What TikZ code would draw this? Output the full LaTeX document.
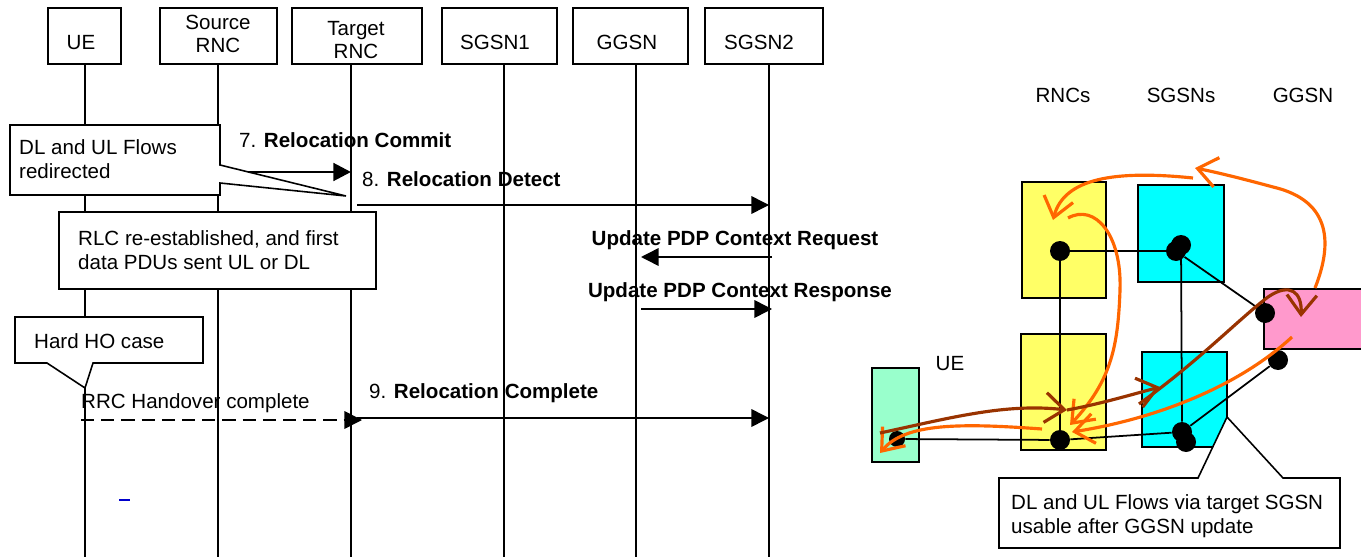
\documentclass[tikz,border=0pt]{standalone}
\usepackage{fontspec}
\setmainfont{Liberation Sans}
\usetikzlibrary{arrows.meta}
\definecolor{rncyellow}{HTML}{FFFF66}
\definecolor{sgsncyan}{HTML}{00FFFF}
\definecolor{ggsnpink}{HTML}{FF99CC}
\definecolor{uegreen}{HTML}{99FFCC}
\definecolor{floworange}{HTML}{FF6600}
\definecolor{flowbrown}{HTML}{993300}
\tikzset{
  hdr/.style={draw=black,line width=1.1pt,fill=white,minimum height=1.12cm,inner sep=0pt},
  life/.style={line width=1.4pt},
  msg/.style={line width=0.85pt,-{Triangle[length=10pt,width=10pt]}},
  note/.style={draw=black,line width=0.9pt,fill=white},
  blk/.style={draw=black,line width=1.1pt,inner sep=0pt},
  dot/.style={circle,fill=black,inner sep=0pt,minimum size=0.4cm},
  wire/.style={line width=1pt},
  flow/.style={line width=1.8pt,-{Straight Barb[length=11pt,width=17pt]}},
}
\begin{document}
\begin{tikzpicture}[x=0.02cm,y=-0.02cm,font=\fontsize{11.7}{14}\selectfont]
\useasboundingbox (0,0) rectangle (1361,557);
% lifeline heads
\node[hdr,minimum width=1.46cm] (ue) at (84.5,36) {};
\node[hdr,minimum width=2.34cm] (src) at (218.5,36) {};
\node[hdr,minimum width=2.6cm] (tgt) at (357,36) {};
\node[hdr,minimum width=2.3cm] (sg1) at (499.5,36) {};
\node[hdr,minimum width=2.3cm] (gg) at (630.5,36) {};
\node[hdr,minimum width=2.36cm] (sg2) at (764,36) {};
\node[anchor=base] at (81,50) {UE};
\node[align=center,font=\fontsize{11.7}{13}\selectfont] at (218,34) {Source\\RNC};
\node[align=center,font=\fontsize{11.7}{13}\selectfont] at (356,40) {Target\\RNC};
\node[anchor=base] at (495,50) {SGSN1};
\node[anchor=base] at (627,50) {GGSN};
\node[anchor=base] at (759,50) {SGSN2};
%
\coordinate (ueB) at (85,557);
\coordinate (srcB) at (218,557);
\coordinate (tgtB) at (351,557);
\coordinate (sg1B) at (504,557);
\coordinate (ggB) at (636,557);
\coordinate (sg2B) at (769,557);
\draw[life] (ueB |- ue.south) -- (ueB);
\draw[life] (srcB |- src.south) -- (srcB);
\draw[life] (tgtB |- tgt.south) -- (tgtB);
\draw[life] (sg1B |- sg1.south) -- (sg1B);
\draw[life] (ggB |- gg.south) -- (ggB);
\draw[life] (sg2B |- sg2.south) -- (sg2B);
% messages
\draw[msg,line width=1.7pt] (srcB |- 0,172) -- (tgtB |- 0,172);
\node[anchor=base west] at (233,148) {7. \textbf{Relocation Commit}};
\draw[msg,shorten <=0.12cm] (tgtB |- 0,205) -- (sg2B |- 0,205);
\node[anchor=base west] at (356,187) {8. \textbf{Relocation Detect}};
\draw[msg,shorten <=-0.06cm,shorten >=0.1cm] (sg2B |- 0,257) -- (ggB |- 0,257);
\node[anchor=base] at (735,245) {\textbf{Update PDP Context Request}};
\draw[msg,shorten <=0.1cm,shorten >=-0.06cm] (ggB |- 0,309) -- (sg2B |- 0,309);
\node[anchor=base] at (740,297) {\textbf{Update PDP Context Response}};
\draw[msg,dash pattern=on 7.5pt off 4pt,shorten <=-0.08cm,shorten >=-0.22cm] (ueB |- 0,420) -- (tgtB |- 0,420);
\node[anchor=base west] at (75,408) {RRC Handover complete};
\draw[msg,shorten <=0.12cm] (tgtB |- 0,418) -- (sg2B |- 0,418);
\node[anchor=base west] at (363,398) {9. \textbf{Relocation Complete}};
\draw[blue!80!black,line width=0.6pt] (119,500) -- (130,500);
% notes
\draw[note] (10,125) -- (220,125) -- (220,165) -- (346,196) -- (220,183) -- (220,195) -- (10,195) -- cycle;
\node[anchor=west,align=left] (redir) at (13,159) {DL and UL Flows\\redirected};
\draw[note] (59,212) rectangle (376,289);
\node[anchor=west,align=left] (rlc) at (72,250) {RLC re-established, and first\\data PDUs sent UL or DL};
\draw[note] (15,317) -- (203,317) -- (203,363) -- (93,363) -- (85,388) -- (47,363) -- (15,363) -- cycle;
\node[anchor=base west] (hardho) at (28,348) {Hard HO case};
% right hand view
\node[anchor=base] at (1063,103) {RNCs};
\node[anchor=base] at (1181,103) {SGSNs};
\node[anchor=base] at (1303,103) {GGSN};
\node[anchor=base] at (950,370) {UE};
\node[blk,fill=rncyellow,minimum width=1.68cm,minimum height=2.32cm] (rnc1) at (1064,240) {};
\node[blk,fill=sgsncyan,minimum width=1.72cm,minimum height=1.94cm] (sgsn1) at (1181,233.5) {};
\node[blk,fill=ggsnpink,minimum width=2.72cm,minimum height=1.2cm] (ggsn) at (1332,319) {};
\node[blk,fill=rncyellow,minimum width=1.7cm,minimum height=2.32cm] (rnc2) at (1063.5,392) {};
\node[blk,fill=sgsncyan,minimum width=1.7cm,minimum height=1.9cm] (sgsn2) at (1184.5,399.5) {};
\node[blk,fill=uegreen,minimum width=0.94cm,minimum height=1.88cm] (uebox) at (895.5,415) {};
%
\node[dot] (rd1) at (1060,251) {};
\node[dot] (sd1a) at (1176,251) {};
\node[dot] (sd1b) at (1181,245) {};
\node[dot] (gd1) at (1265,313) {};
\node[dot] (gd2) at (1278,360) {};
\node[dot] (sd2a) at (1182,432) {};
\node[dot] (sd2b) at (1186,442) {};
\node[dot] (rd2) at (1060,440) {};
\node[dot,minimum size=0.32cm] (ued) at (897,439) {};
\path[wire] (rd1) edge (sd1a) edge (rd2);
\path[wire] (sd1b) edge (sd2a);
\path[wire] (sd1a) edge (gd1);
\path[wire] (sd2a) edge (gd2);
\path[wire] (ued) edge (rd2);
\path[wire] (rd2) edge (sd2a);
% flows
\draw[flow,floworange] (1315,288) .. controls (1338,230) and (1320,198) .. (1273,187) .. controls (1240,178) and (1215,172) .. (1195,168);
\draw[flow,floworange] (1193,178) .. controls (1115,170) and (1064,178) .. (1053,220);
\draw[flow,floworange] (1068,218) .. controls (1095,203) and (1122,235) .. (1120,290) .. controls (1118,345) and (1112,380) .. (1070,425);
\draw[flow,floworange] (1292,337) .. controls (1240,385) and (1160,418) .. (1072,432);
\draw[flow,floworange] (1042,429) .. controls (960,423) and (905,423) .. (880,453);
\draw[flow,flowbrown] (880,433) .. controls (950,418) and (1005,403) .. (1067,410);
\draw[flow,flowbrown] (1067,410) .. controls (1100,404) and (1130,395) .. (1160,387);
\draw[flow,flowbrown] (1139,404) .. controls (1200,360) and (1240,318) .. (1268,297) .. controls (1290,282) and (1302,292) .. (1301,317);
%
\draw[note] (999,478) -- (1198,478) -- (1227,417) -- (1283,478) -- (1340,478) -- (1340,548) -- (999,548) -- cycle;
\node[anchor=west,align=left] (via) at (1005,516) {DL and UL Flows via target SGSN\\usable after GGSN update};
\end{tikzpicture}
\end{document}
